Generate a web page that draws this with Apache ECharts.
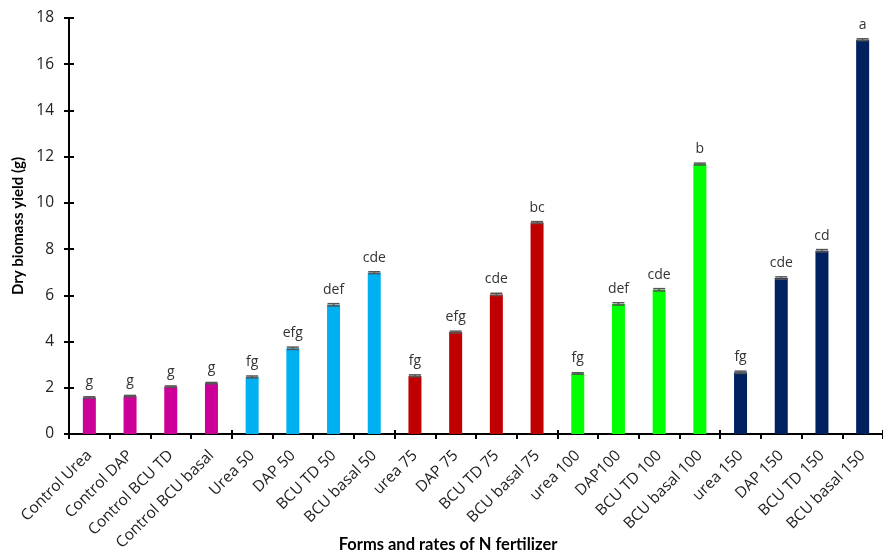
<!DOCTYPE html>
<html>
<head>
<meta charset="utf-8">
<script src="https://cdn.jsdelivr.net/npm/echarts@6/dist/echarts.min.js"></script>
<style>html,body{margin:0;padding:0;background:#fff}#c{width:883px;height:557px}</style>
</head>
<body>
<div id="c"></div>
<script>
const categories = ["Control Urea","Control DAP","Control BCU TD","Control BCU basal",
  "Urea 50","DAP 50","BCU TD 50","BCU basal 50",
  "urea 75","DAP 75","BCU TD 75","BCU basal 75",
  "urea 100","DAP100","BCU TD 100","BCU basal 100",
  "urea 150","DAP 150","BCU TD 150","BCU basal 150"];
const values = [1.58,1.64,2.05,2.2, 2.47,3.71,5.59,6.98, 2.52,4.41,6.04,9.15, 2.62,5.63,6.24,11.68, 2.67,6.75,7.93,17.06];
const errors = [0.03,0.03,0.03,0.03, 0.04,0.05,0.05,0.04, 0.04,0.04,0.05,0.04, 0.03,0.05,0.05,0.04, 0.05,0.05,0.05,0.04];
const letters = ["g","g","g","g","fg","efg","def","cde","fg","efg","cde","bc","fg","def","cde","b","fg","cde","cd","a"];
const groupColors = ["#CC0099","#00B0F0","#C00000","#00FF00","#002060"];
const yTicks = [0,2,4,6,8,10,12,14,16,18];

const font = "Lato";
const chart = echarts.init(document.getElementById('c'));
const barData = values.map((v,i)=>({value:v,itemStyle:{color:groupColors[Math.floor(i/4)]}}));
const errData = values.map((v,i)=>[i, v, errors[i]]);

chart.setOption({
  animation:false,
  backgroundColor:'#fff',
  grid:{left:69,top:18,bottom:123,right:-2,containLabel:false},
  xAxis:[{
    type:'category', data:categories, boundaryGap:true,
    axisLine:{lineStyle:{color:'#000',width:2}},
    axisTick:{show:true,length:5,lineStyle:{color:'#000',width:2}},
    axisLabel:{rotate:45,color:'#222',fontFamily:'Open Sans',fontSize:15.5,margin:19,interval:0}
  },{
    type:'category', data:categories, position:'bottom', boundaryGap:true,
    axisLine:{show:false},
    axisTick:{show:true,inside:true,length:4,lineStyle:{color:'#000',width:2}},
    axisLabel:{show:false}
  }],
  yAxis:[{
    type:'value', min:yTicks[0], max:yTicks[yTicks.length-1], interval:2,
    name:'Dry biomass yield (g)', nameLocation:'middle', nameGap:38,
    nameTextStyle:{fontFamily:font,fontWeight:'bold',fontSize:15,color:'#000'},
    axisLine:{show:true,lineStyle:{color:'#000',width:2}},
    axisTick:{show:true,length:5,lineStyle:{color:'#000',width:2}},
    axisLabel:{color:'#222',fontFamily:'Open Sans',fontSize:15.5,margin:15},
    splitLine:{show:false}
  },{
    type:'value', min:yTicks[0], max:yTicks[yTicks.length-1], interval:2, position:'left',
    axisLine:{show:false},
    axisTick:{show:true,inside:true,length:5,lineStyle:{color:'#000',width:2}},
    axisLabel:{show:false}, splitLine:{show:false}
  }],
  graphic:[{
    type:'text', x:448, y:545,
    style:{text:'Forms and rates of N fertilizer',font:'bold 16.5px Lato',fill:'#000',textAlign:'center',textVerticalAlign:'middle'}
  }],
  series:[{
    type:'bar', data:barData, barWidth:13,
    label:{show:true,position:'top',distance:8,formatter:p=>letters[p.dataIndex],
      color:'#333',fontFamily:'Open Sans',fontSize:14}
  },{
    type:'custom', data:errData, z:5,
    renderItem:(params,api)=>{
      const i=api.value(0), v=api.value(1), e=api.value(2);
      const hi=api.coord([i,v+e]), lo=api.coord([i,v-e]);
      const hw=6;
      return {type:'group',children:[
        {type:'line',shape:{x1:hi[0],y1:hi[1],x2:lo[0],y2:lo[1]},style:{stroke:'#555',lineWidth:1.5}},
        {type:'line',shape:{x1:hi[0]-hw,y1:hi[1],x2:hi[0]+hw,y2:hi[1]},style:{stroke:'#555',lineWidth:1.5}},
        {type:'line',shape:{x1:lo[0]-hw,y1:lo[1],x2:lo[0]+hw,y2:lo[1]},style:{stroke:'#555',lineWidth:1.5}}
      ]};
    }
  }]
});
</script>
</body>
</html>
